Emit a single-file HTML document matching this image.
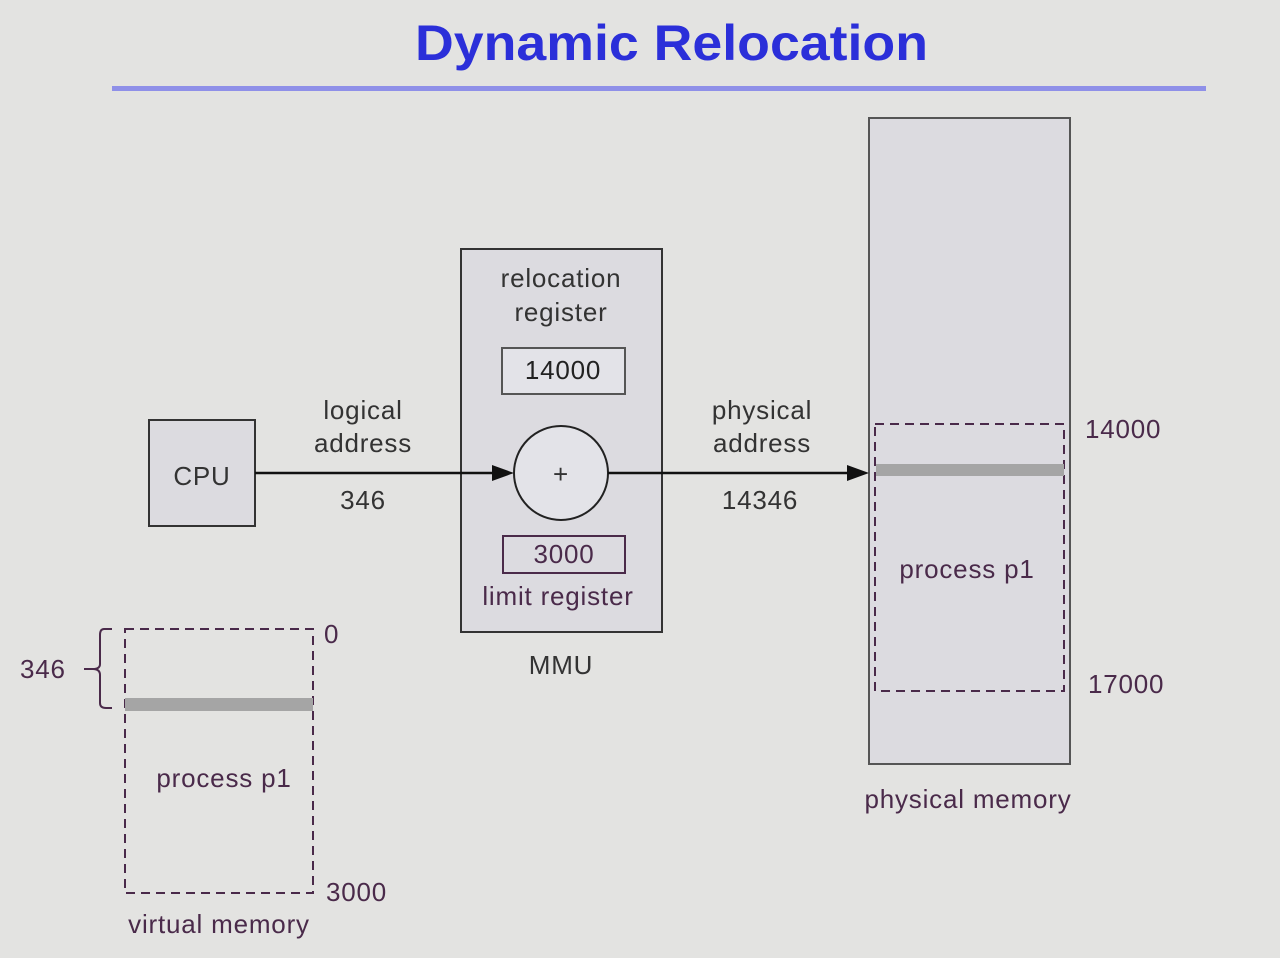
<!DOCTYPE html>
<html><head><style>
body{margin:0;background:#e3e3e1;}
svg{display:block}
text{font-family:"Liberation Sans",sans-serif;}
.t{font-size:26px;letter-spacing:0.8px;}
</style></head><body>
<svg width="1280" height="958" viewBox="0 0 1280 958">
<rect width="1280" height="958" fill="#e3e3e1"/>
<text x="415" y="60" font-size="50" font-weight="bold" fill="#2b2fd9" textLength="513" lengthAdjust="spacingAndGlyphs">Dynamic Relocation</text>
<rect x="112" y="86" width="1094" height="5" fill="#8f90e8"/>
<!-- physical memory -->
<rect x="869" y="118" width="201" height="646" fill="#dcdbe0" stroke="#555" stroke-width="2"/>
<rect x="875" y="424" width="189" height="267" fill="none" stroke="#4a2a4a" stroke-width="2" stroke-dasharray="9,6"/>
<rect x="876" y="464" width="188" height="12" fill="#a5a5a5"/>
<g class="t">
<text x="967" y="578" text-anchor="middle" fill="#4a2a4a">process p1</text>
<text x="1085" y="438" fill="#4a2a4a">14000</text>
<text x="1088" y="693" fill="#4a2a4a">17000</text>
<text x="968" y="808" text-anchor="middle" fill="#4a2a4a">physical memory</text>
</g>
<!-- MMU -->
<rect x="461" y="249" width="201" height="383" fill="#dcdbe0" stroke="#333" stroke-width="2"/>
<rect x="502" y="348" width="123" height="46" fill="#e3e3e8" stroke="#555" stroke-width="2"/>
<rect x="503" y="536" width="122" height="37" fill="#dcdbe0" stroke="#4a2a4a" stroke-width="2"/>
<!-- CPU -->
<rect x="149" y="420" width="106" height="106" fill="#dcdbe0" stroke="#333" stroke-width="2"/>
<!-- arrows -->
<line x1="255" y1="473" x2="495" y2="473" stroke="#111" stroke-width="2.5"/>
<polygon points="514,473 492,465 492,481" fill="#111"/>
<circle cx="561" cy="473" r="47" fill="#e3e3e8" stroke="#222" stroke-width="2"/>
<line x1="608" y1="473" x2="850" y2="473" stroke="#111" stroke-width="2.5"/>
<polygon points="869,473 847,465 847,481" fill="#111"/>
<g class="t">
<text x="561" y="287" text-anchor="middle" fill="#333">relocation</text>
<text x="561" y="321" text-anchor="middle" fill="#333">register</text>
<text x="563" y="379" text-anchor="middle" fill="#222">14000</text>
<text x="564" y="563" text-anchor="middle" fill="#4a2a4a">3000</text>
<text x="558" y="605" text-anchor="middle" fill="#4a2a4a">limit register</text>
<text x="561" y="674" text-anchor="middle" fill="#333">MMU</text>
<text x="202" y="485" text-anchor="middle" fill="#333">CPU</text>
<text x="561" y="483" text-anchor="middle" fill="#333">+</text>
<text x="363" y="419" text-anchor="middle" fill="#333">logical</text>
<text x="363" y="452" text-anchor="middle" fill="#333">address</text>
<text x="363" y="509" text-anchor="middle" fill="#333">346</text>
<text x="762" y="419" text-anchor="middle" fill="#333">physical</text>
<text x="762" y="452" text-anchor="middle" fill="#333">address</text>
<text x="760" y="509" text-anchor="middle" fill="#333">14346</text>
</g>
<!-- virtual memory -->
<rect x="125" y="629" width="188" height="264" fill="none" stroke="#4a2a4a" stroke-width="2" stroke-dasharray="9,6"/>
<rect x="125" y="698" width="188" height="13" fill="#a5a5a5"/>
<path d="M112,629 L104,629 Q100,629 100,635 L100,664 Q100,669 93,669 L84,669 M93,669 Q100,669 100,675 L100,703 Q100,708 106,708 L112,708" fill="none" stroke="#4a2a4a" stroke-width="2"/>
<g class="t">
<text x="20" y="678" fill="#4a2a4a">346</text>
<text x="324" y="643" fill="#4a2a4a">0</text>
<text x="326" y="901" fill="#4a2a4a">3000</text>
<text x="224" y="787" text-anchor="middle" fill="#4a2a4a">process p1</text>
<text x="219" y="933" text-anchor="middle" fill="#4a2a4a">virtual memory</text>
</g>
</svg>
</body></html>
